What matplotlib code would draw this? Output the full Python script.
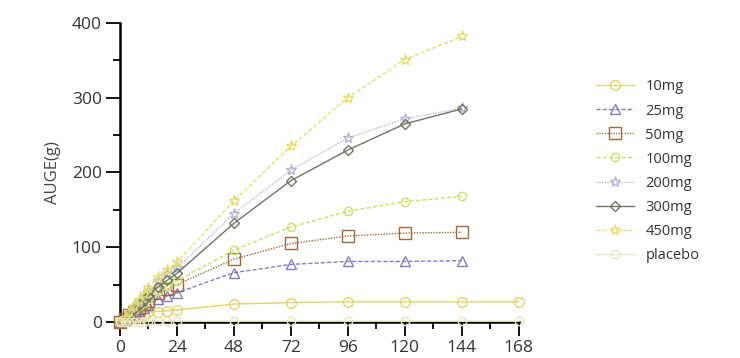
import numpy as np
import matplotlib
matplotlib.use("Agg")
import matplotlib.pyplot as plt
from matplotlib.ticker import MultipleLocator

plt.rcParams['font.family'] = ['Open Sans', 'DejaVu Sans']

# sampling times (h)
hours = [0, 2, 4, 6, 8, 10, 12, 16, 20, 24, 48, 72, 96, 120, 144]
hours_long = hours + [168]

auge_10 = [0, 2, 4, 6, 8, 10, 13, 14, 15, 16, 24, 26, 27, 27, 27, 27]
auge_25 = [0, 3, 7, 11, 15, 19, 23, 31, 35, 39, 66, 77, 81, 81, 82]
auge_50 = [0, 4, 9, 14, 19, 24, 28, 39, 44, 50, 84, 105, 115, 119, 120]
auge_100 = [0, 4, 10, 16, 21, 26, 31, 42, 48, 55, 96, 127, 148, 161, 168]
auge_200 = [0, 5, 12, 19, 27, 34, 41, 55, 64, 72, 145, 203, 246, 272, 286]
auge_300 = [0, 5, 11, 17, 23, 29, 35, 47, 56, 65, 132, 189, 230, 265, 285]
auge_450 = [0, 6, 13, 21, 29, 37, 45, 60, 70, 80, 162, 235, 300, 351, 382]
auge_placebo = [0, 0, 0, 0, 0, 0, 1, 1, 1, 1, 1, 1, 1, 1, 1, 1]

series = [
    ('10mg', hours_long, auge_10, '#e3d36a', '-', 'o', 7),
    ('25mg', hours, auge_25, '#7f7fbf', (0, (3, 1.5)), '^', 7),
    ('50mg', hours, auge_50, '#a0683a', (0, (1, 1)), 's', 8),
    ('100mg', hours, auge_100, '#c9e06a', (0, (3, 1.5)), 'o', 6),
    ('200mg', hours, auge_200, '#b5b5d3', (0, (1, 1)), '*', 8),
    ('300mg', hours, auge_300, '#6f7560', '-', 'D', 5),
    ('450mg', hours, auge_450, '#e6dc6e', (0, (3, 1.5)), '*', 8),
    ('placebo', hours_long, auge_placebo, '#e6e6c0', '-', 'o', 6),
]

fig = plt.figure(figsize=(7.4, 3.58), dpi=100)
ax = fig.add_axes([0.162, 0.1006, 0.539, 0.8352])

for name, x, y, c, ls, m, ms in series:
    ax.plot(x, y, color=c, linestyle=ls, linewidth=1.0, marker=m,
            markersize=ms, markerfacecolor='none', markeredgecolor=c,
            markeredgewidth=1.0, label=name, clip_on=False, zorder=3)

ax.set_xlim(0, 168)
ax.set_ylim(0, 400)
ax.set_xticks(range(0, 169, 24))
ax.xaxis.set_minor_locator(MultipleLocator(12))
ax.set_yticks(range(0, 401, 100))
ax.yaxis.set_minor_locator(MultipleLocator(50))

for s in ['top', 'right']:
    ax.spines[s].set_visible(False)
for s in ['left', 'bottom']:
    ax.spines[s].set_linewidth(1.8)
    ax.spines[s].set_color('black')

ax.tick_params(which='major', length=10, width=1.3, labelsize=12.5,
               labelcolor='#333333', direction='out', pad=3)
ax.tick_params(which='minor', length=5, width=1.3, direction='out')
ax.set_ylabel('AUGE(g)', fontsize=12, color='#444444', labelpad=8)

leg = ax.legend(loc='upper left', bbox_to_anchor=(1.16, 0.855), frameon=False,
                fontsize=10.5, handlelength=2.6, labelspacing=0.62,
                handletextpad=0.8)
for t in leg.get_texts():
    t.set_color('#333333')

fig.savefig('out.png', dpi=100)
